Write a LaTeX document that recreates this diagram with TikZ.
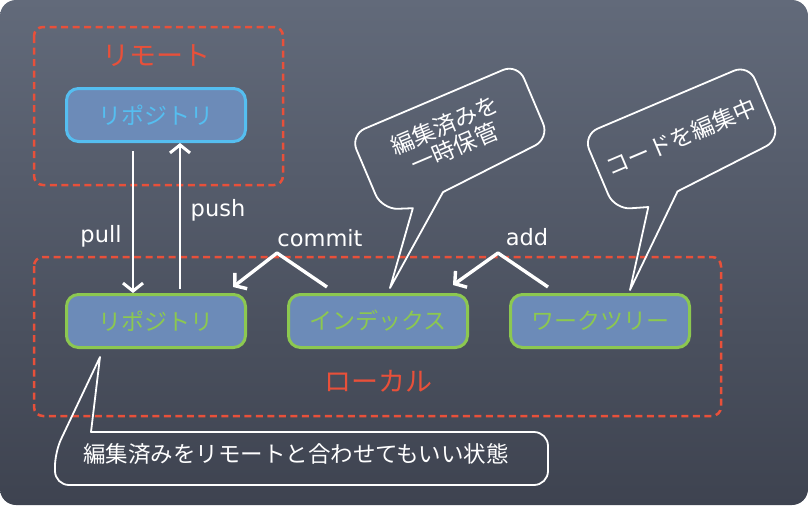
\documentclass[tikz,border=0pt]{standalone}
\usepackage{fontspec}
\setmainfont{DejaVu Sans}
\newfontfamily\jpfont{Noto Sans CJK JP}
\usetikzlibrary{arrows.meta,positioning,calc}
\definecolor{slateTop}{HTML}{626A7A}
\definecolor{slateBot}{HTML}{3E4350}
\definecolor{chalkRed}{HTML}{E8503A}
\definecolor{repoBlue}{HTML}{55BEF0}
\definecolor{repoGreen}{HTML}{8CC850}
\definecolor{boxFill}{HTML}{6C8BB8}
\tikzset{
  area/.style={draw=chalkRed, line width=2.5pt, rounded corners=9pt, dash pattern=on 7pt off 4.5pt},
  arealbl/.style={text=chalkRed, font=\jpfont\fontsize{27}{32}\selectfont, inner sep=0pt},
  repo/.style={draw=#1, text=#1, line width=3pt, rounded corners=12pt, fill=boxFill, minimum width=179pt, minimum height=53pt, font=\jpfont\fontsize{23}{27}\selectfont},
  flow/.style={white, line width=2.4pt, -{Straight Barb[length=8pt,width=20pt,line width=3pt]}},
  bent/.style={white, line width=3.4pt, line join=round, -{Straight Barb[length=8pt,width=20pt]}},
  lbl/.style={text=white, font=\fontsize{22.5}{26}\selectfont},
  bubble/.style={draw=white, line width=1.8pt, line join=round, line cap=round},
  memo/.style={text=white, align=center, font=\jpfont\fontsize{23}{25}\selectfont},
}
\begin{document}
\begin{tikzpicture}[x=1pt, y=-1pt]
\useasboundingbox (0,0) rectangle (809,506);
\shade[top color=slateTop, bottom color=slateBot, rounded corners=16pt] (0,0) rectangle (808,505);

% Ortsbereiche
\draw[area] (34,27) rectangle (283,185);
\draw[area] (34,257) rectangle (721,416);

% Lokale Stufen
\node[repo=repoGreen] (lrepo) at (156,321) {リポジトリ};
\node[repo=repoGreen, right=40pt of lrepo] (index) {インデックス};
\node[repo=repoGreen, right=40pt of index] (wtree) {ワークツリー};
\node[repo=repoBlue, above=150pt of lrepo] (rrepo) {リポジトリ};

\node[arealbl] (remotelbl) at ([yshift=31pt]rrepo.north) {リモート};
\node[arealbl] (locallbl) at ([yshift=-32pt]index.south) {ローカル};

% pull / push
\draw[flow] ([shift={(-23,8)}]rrepo.south) -- ([xshift=-23pt]lrepo.north);
\draw[flow] ([shift={(24,-4)}]lrepo.north) -- ([xshift=24pt]rrepo.south);
\node[lbl] (pulllbl) at (101,236) {pull};
\node[lbl] (pushlbl) at (218,210) {push};

% commit / add
\draw[bent] ([shift={(40,-6)}]index.north west) -- ([shift={(-10,-40)}]index.north west) -- ([shift={(-14,-6)}]lrepo.north east);
\draw[bent] ([shift={(39,-6)}]wtree.north west) -- ([shift={(-11,-40)}]wtree.north west) -- ([shift={(-16,-8)}]index.north east);
\node[lbl] (commitlbl) at (320,238) {commit};
\node[lbl] (addlbl) at (527,237) {add};

% Sprechblasen
\coordinate (tip1) at ([shift={(103,-5)}]index.north west);
\coordinate (tip2) at ([shift={(121,-3)}]wtree.north west);
\coordinate (tip3) at ([shift={(35,8)}]lrepo.south west);

\node[memo, rotate=23] (memo1) at (449.6,136.1) {編集済みを\\一時保管};
\begin{scope}[shift={(memo1.center)}, rotate=23]
\draw[bubble] (tip1) -- (-62,52) [rounded corners=16pt] -- (-91,41) -- (-91,-40) -- (91,-40) -- (91,41) [sharp corners] -- (-28,49) -- (tip1);
\end{scope}

\node[memo, rotate=23] (memo2) at (681.4,136.5) {コードを編集中};
\begin{scope}[shift={(memo2.center)}, rotate=23]
\draw[bubble] (tip2) -- (-58,52) [rounded corners=16pt] -- (-90,41) -- (-90,-40) -- (90,-40) -- (90,41) [sharp corners] -- (-25,49) -- (tip2);
\end{scope}

\node[memo, font=\jpfont\fontsize{22.5}{26}\selectfont] (memo3) at (296,454) {編集済みをリモートと合わせてもいい状態};
\draw[bubble] (tip3) -- (91,432) [rounded corners=14pt] -- (548,432) -- (548,485) -- (55,485) -- (55,452) -- (tip3);
\end{tikzpicture}
\end{document}
